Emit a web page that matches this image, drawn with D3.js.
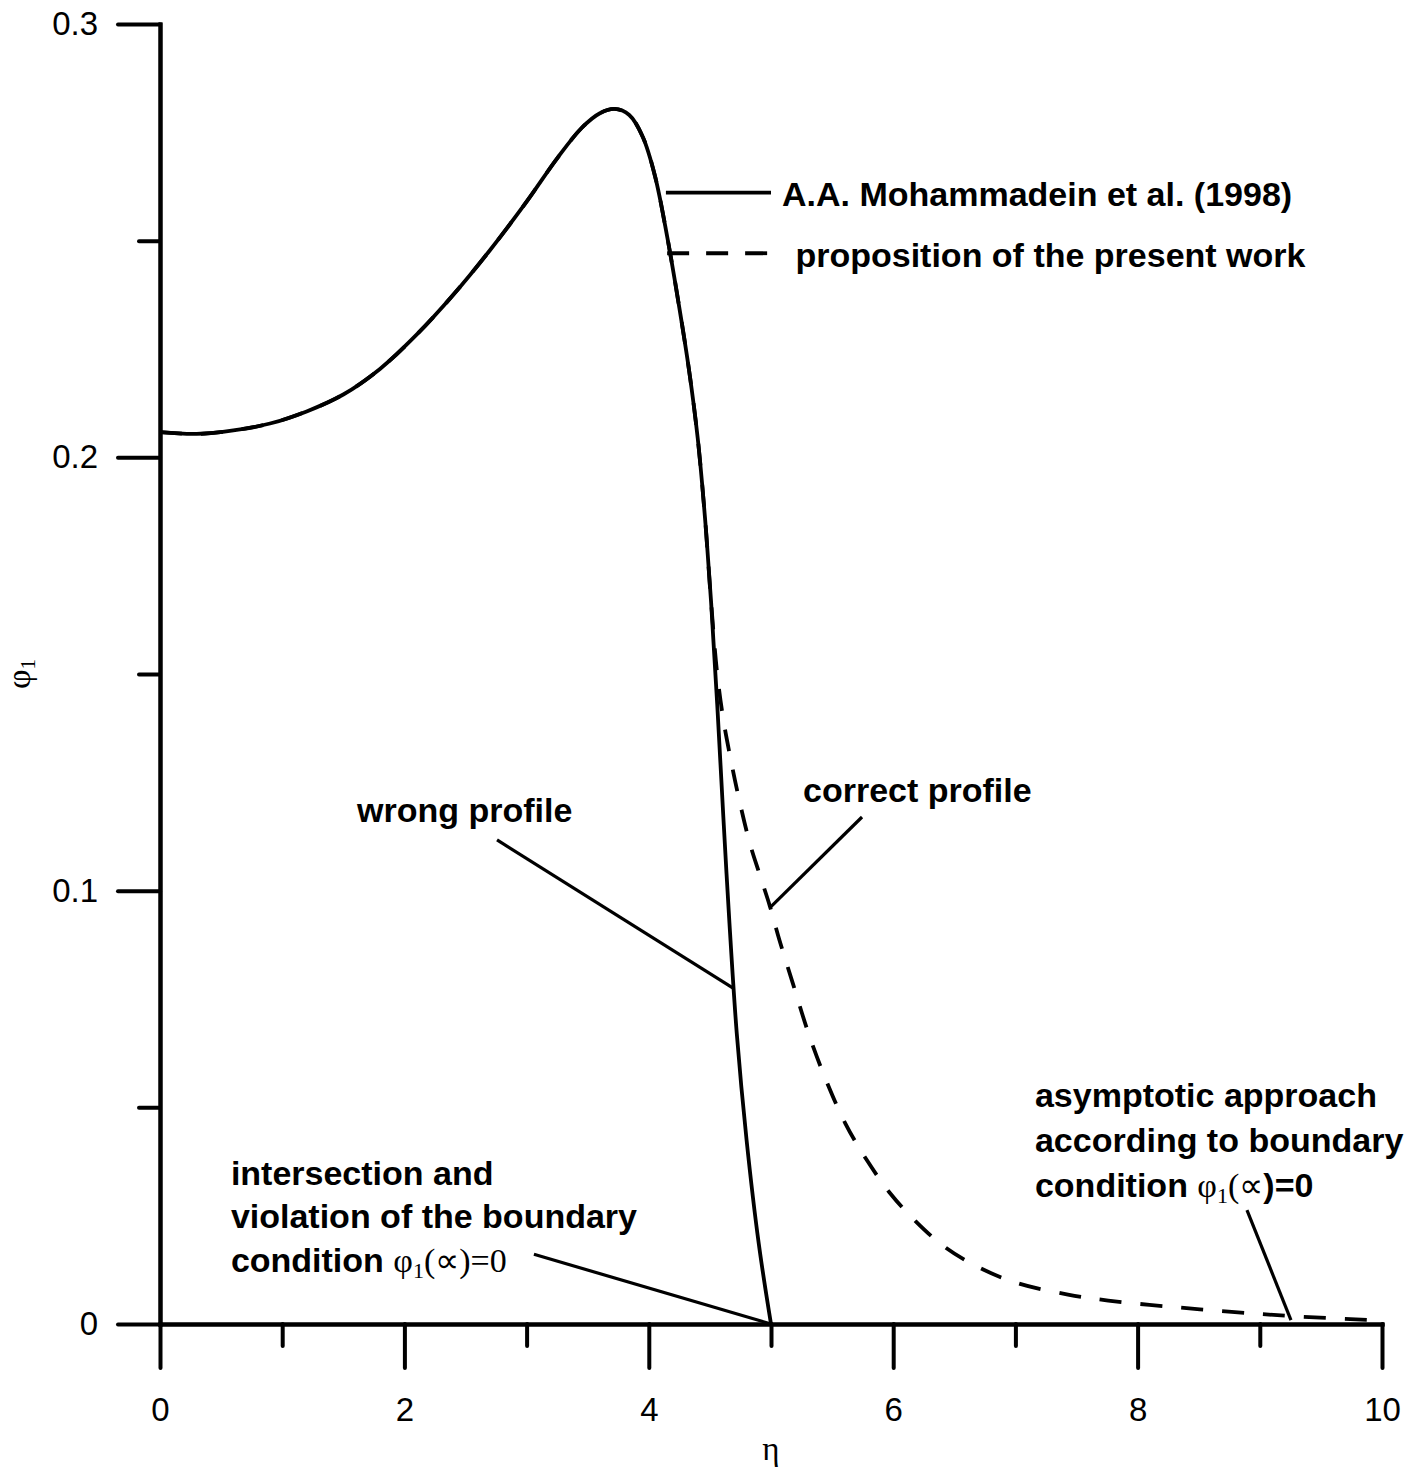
<!DOCTYPE html>
<html>
<head>
<meta charset="utf-8">
<script src="https://cdn.jsdelivr.net/npm/d3@7"></script>
<style>
  body { margin: 0; background: #fff; }
  svg { display: block; }
</style>
</head>
<body>
<script>
// curve: eta vs phi_1
const etaSolid = [0, 0.3, 0.6, 0.9, 1.2, 1.5, 1.8, 2.1, 2.4, 2.7, 3.0, 3.25, 3.45, 3.6, 3.72, 3.84, 3.95, 4.05, 4.15, 4.25, 4.33, 4.4, 4.46, 4.51, 4.56, 4.61, 4.66, 4.72, 4.8, 4.9, 5.0];
const phiSolid = [0.2058, 0.2054, 0.2062, 0.2078, 0.2106, 0.2145, 0.2204, 0.2283, 0.2375, 0.2478, 0.259, 0.269, 0.276, 0.2794, 0.2804, 0.279, 0.274, 0.265, 0.251, 0.2345, 0.22, 0.2045, 0.186, 0.1665, 0.143, 0.117, 0.0925, 0.067, 0.0425, 0.0185, 0];

// dashed profile leaves the solid one around eta = 4.51
const etaDashTail = [4.56, 4.61, 4.664, 4.73, 4.826, 4.91, 4.99, 5.07, 5.18, 5.31, 5.45, 5.61, 5.78, 5.98, 6.18, 6.42, 6.69, 7.02, 7.43, 7.76, 8.26, 8.77, 9.27, 10];
const phiDashTail = [0.15, 0.1395, 0.1312, 0.1222, 0.111, 0.1035, 0.0965, 0.0885, 0.0785, 0.0668, 0.0563, 0.0462, 0.038, 0.03, 0.0238, 0.0178, 0.0132, 0.0094, 0.0068, 0.0054, 0.004, 0.0028, 0.0018, 0.0008];

const xMajorTicks = [0, 2, 4, 6, 8, 10];
const xMinorTicks = [1, 3, 5, 7, 9];
const yMajorTicks = [0, 0.1, 0.2, 0.3];
const yMinorTicks = [0.05, 0.15, 0.25];
const legendLabels = ["A.A. Mohammadein et al. (1998)", "proposition of the present work"];

const W = 1413, H = 1474;
const SANS = "'Liberation Sans', Arial, Helvetica, sans-serif";
const SERIF = "'Liberation Serif', 'Times New Roman', serif";

const x = d3.scaleLinear().domain([0, 10]).range([160, 1382]);
const y = d3.scaleLinear().domain([0, 0.3]).range([1324, 24]);

const svg = d3.select("body").append("svg")
  .attr("width", W)
  .attr("height", H)
  .style("background", "#fff");

// axes
function styleAxis(g) {
  g.select(".domain").attr("stroke-width", 4).attr("stroke-linecap", "square");
  g.selectAll(".tick line").attr("stroke-width", 4).attr("stroke-linecap", "round");
  g.selectAll(".tick text")
    .attr("fill", "#000")
    .style("font-family", SANS)
    .style("font-size", "33px");
}

svg.append("g")
  .attr("transform", `translate(${x(0)},0)`)
  .call(d3.axisLeft(y).tickValues(yMinorTicks).tickSize(21).tickSizeOuter(0).tickFormat(""))
  .call(styleAxis);
svg.append("g")
  .attr("transform", `translate(${x(0)},0)`)
  .call(d3.axisLeft(y).tickValues(yMajorTicks).tickSize(42).tickPadding(20).tickSizeOuter(0)
    .tickFormat(d => d === 0 ? "0" : d3.format(".1f")(d)))
  .call(styleAxis);

svg.append("g")
  .attr("transform", `translate(0,${y(0)})`)
  .call(d3.axisBottom(x).tickValues(xMinorTicks).tickSize(22).tickSizeOuter(0).tickFormat(""))
  .call(styleAxis);
svg.append("g")
  .attr("transform", `translate(0,${y(0)})`)
  .call(d3.axisBottom(x).tickValues(xMajorTicks).tickSize(44).tickPadding(30).tickSizeOuter(0)
    .tickFormat(d3.format("d")))
  .call(styleAxis);

// axis titles
svg.append("text")
  .attr("x", x(5))
  .attr("y", 1460)
  .attr("text-anchor", "middle")
  .style("font-family", SERIF)
  .style("font-size", "33px")
  .text("η");

const yTitle = svg.append("text")
  .attr("transform", `translate(30,${y(0.15)}) rotate(-90)`)
  .attr("text-anchor", "middle")
  .style("font-family", SERIF)
  .style("font-size", "34px");
yTitle.append("tspan").text("φ");
yTitle.append("tspan").attr("dy", 5).style("font-size", "21px").text("1");

// curves
const solidPts = etaSolid.map((e, i) => [e, phiSolid[i]]);
const dashPts = solidPts.filter(p => p[0] <= 4.51)
  .concat(etaDashTail.map((e, i) => [e, phiDashTail[i]]));

const line = d3.line()
  .x(d => x(d[0]))
  .y(d => y(d[1]))
  .curve(d3.curveCatmullRom.alpha(0.5));

svg.append("path")
  .datum(solidPts)
  .attr("d", line)
  .attr("fill", "none")
  .attr("stroke", "#000")
  .attr("stroke-width", 3.8)
  .attr("stroke-linejoin", "round");

svg.append("path")
  .datum(dashPts)
  .attr("d", line)
  .attr("fill", "none")
  .attr("stroke", "#000")
  .attr("stroke-width", 3.8)
  .attr("stroke-dasharray", "22,19");

// legend
const legend = [
  {label: legendLabels[0], dash: null, e0: 4.14, e1: 5.0, phi: 0.2611, tx: 5.09, tphi: 0.2581},
  {label: legendLabels[1], dash: "22,17", e0: 4.15, e1: 5.0, phi: 0.2471, tx: 5.2, tphi: 0.244}
];
legend.forEach(l => {
  svg.append("line")
    .attr("x1", x(l.e0)).attr("x2", x(l.e1))
    .attr("y1", y(l.phi)).attr("y2", y(l.phi))
    .attr("stroke", "#000")
    .attr("stroke-width", 3.8)
    .attr("stroke-dasharray", l.dash);
  svg.append("text")
    .attr("x", x(l.tx))
    .attr("y", y(l.tphi))
    .style("font-family", SANS)
    .style("font-size", "34px")
    .style("font-weight", "bold")
    .text(l.label);
});

// annotations
function leader(e0, p0, e1, p1) {
  svg.append("line")
    .attr("x1", x(e0)).attr("y1", y(p0))
    .attr("x2", x(e1)).attr("y2", y(p1))
    .attr("stroke", "#000")
    .attr("stroke-width", 3.2);
}

function boldText(e, p, str) {
  return svg.append("text")
    .attr("x", x(e))
    .attr("y", y(p))
    .style("font-family", SANS)
    .style("font-size", "34px")
    .style("font-weight", "bold")
    .text(str);
}

function phiTerm(t) {
  t.append("tspan").style("font-family", SERIF).style("font-weight", "normal").text("φ");
  t.append("tspan").attr("dy", 6).style("font-family", SERIF).style("font-weight", "normal")
    .style("font-size", "22px").text("1");
  t.append("tspan").attr("dy", -6).style("font-family", SERIF).style("font-weight", "normal").text("(∝");
}

boldText(1.612, 0.1158, "wrong profile");
leader(2.758, 0.1117, 4.69, 0.0775);

boldText(5.262, 0.1204, "correct profile");
leader(5.745, 0.117, 5.0, 0.0963);

boldText(0.58, 0.0321, "intersection and");
boldText(0.58, 0.0221, "violation of the boundary");
const c1 = boldText(0.58, 0.012, "condition ");
phiTerm(c1);
c1.append("tspan").style("font-family", SERIF).style("font-weight", "normal").text(")=0");
leader(3.06, 0.0161, 5.0, 0);

boldText(7.16, 0.05, "asymptotic approach");
boldText(7.16, 0.0397, "according to boundary");
const c2 = boldText(7.16, 0.0293, "condition ");
phiTerm(c2);
c2.append("tspan").text(")=0");
leader(8.895, 0.0263, 9.255, 0.0009);
</script>
</body>
</html>
